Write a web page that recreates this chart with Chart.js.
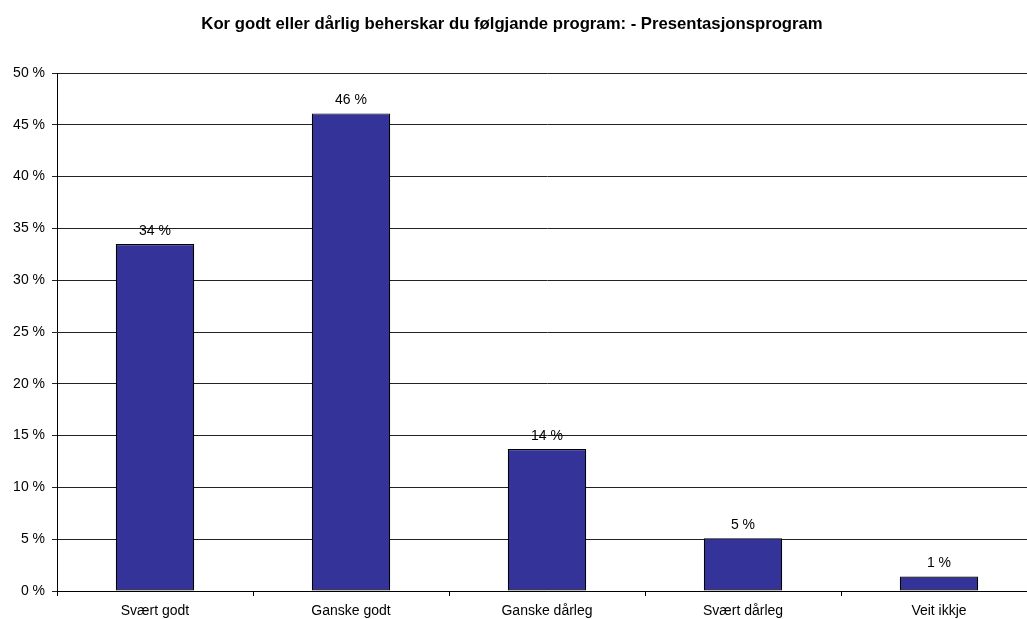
<!DOCTYPE html>
<html>
<head>
<meta charset="utf-8">
<script src="https://cdn.jsdelivr.net/npm/chart.js@4"></script>
<style>
  html, body { margin: 0; padding: 0; background: #fff; overflow: hidden; }
  #wrap { width: 1040px; height: 619px; }
</style>
</head>
<body>
<div id="wrap"><canvas id="chart" width="1040" height="619"></canvas></div>
<script>
const chartTitle = 'Kor godt eller dårlig beherskar du følgjande program: - Presentasjonsprogram';
const categories = ['Svært godt', 'Ganske godt', 'Ganske dårleg', 'Svært dårleg', 'Veit ikkje'];
const shares = [33.5, 46.1, 13.7, 5.1, 1.4];

const FONT = 'Liberation Sans, Arial, sans-serif';

// title and value labels are painted by hand
const labelsPlugin = {
  id: 'labels',
  afterDraw(chart) {
    const ctx = chart.ctx;
    ctx.save();
    ctx.fillStyle = '#000';
    ctx.textAlign = 'center';
    ctx.textBaseline = 'alphabetic';
    ctx.font = 'bold 16.7px ' + FONT;
    ctx.fillText(chartTitle, 512, 29);

    ctx.textBaseline = 'middle';
    ctx.font = '14px ' + FONT;
    const meta = chart.getDatasetMeta(0);
    meta.data.forEach((bar, i) => {
      ctx.fillText(Math.round(shares[i]) + ' %', bar.x, bar.y - 13);
    });
    ctx.restore();
  }
};

new Chart(document.getElementById('chart'), {
  type: 'bar',
  data: {
    labels: categories,
    datasets: [{
      data: shares,
      backgroundColor: '#333399',
      borderColor: '#000',
      borderWidth: 1.2,
      borderSkipped: false,
      barPercentage: 0.4,
      categoryPercentage: 1.0
    }]
  },
  options: {
    responsive: false,
    animation: false,
    devicePixelRatio: 1,
    layout: { padding: { top: 73, left: 0, right: 3, bottom: 0 } },
    plugins: {
      legend: { display: false },
      tooltip: { enabled: false },
      title: { display: false }
    },
    scales: {
      x: {
        afterFit(axis) { axis.height = 28; },
        border: { color: '#000', width: 1 },
        grid: { offset: true, drawOnChartArea: false, tickLength: 5, color: '#000' },
        ticks: { color: '#000', padding: 7, font: { family: FONT, size: 14 } }
      },
      y: {
        min: 0,
        max: 50,
        afterFit(axis) { axis.width = 57; },
        border: { color: '#000', width: 1 },
        grid: { color: '#222', tickLength: 5 },
        ticks: {
          stepSize: 5,
          color: '#000',
          padding: 7,
          font: { family: FONT, size: 14 },
          callback: v => v + ' %'
        }
      }
    }
  },
  plugins: [labelsPlugin]
});
</script>
</body>
</html>
